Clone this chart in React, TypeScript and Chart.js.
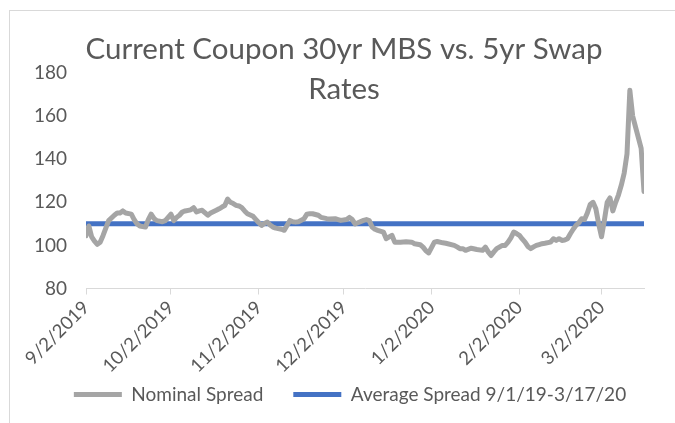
import { useEffect, useRef } from "react";
import { Chart, registerables } from "chart.js";

Chart.register(...registerables);

const TITLE_LINES = ["Current Coupon 30yr MBS vs. 5yr Swap", "Rates"];
const SERIES_NAMES = ["Nominal Spread", "Average Spread 9/1/19-3/17/20"];
const AVERAGE_SPREAD = 110;
const Y_MIN = 80;
const Y_MAX = 180;
const Y_STEP = 20;
const TICK_LABELS = ["9/2/2019", "10/2/2019", "11/2/2019", "12/2/2019", "1/2/2020", "2/2/2020", "3/2/2020"];

const DATES = [
  "9/2/2019", "9/3/2019", "9/4/2019", "9/5/2019", "9/6/2019", "9/7/2019", "9/8/2019", "9/9/2019", "9/10/2019",
  "9/12/2019", "9/13/2019", "9/14/2019", "9/15/2019", "9/16/2019", "9/18/2019", "9/19/2019", "9/20/2019",
  "9/21/2019", "9/23/2019", "9/24/2019", "9/25/2019", "9/26/2019", "9/27/2019", "9/29/2019", "9/30/2019",
  "10/1/2019", "10/2/2019", "10/3/2019", "10/4/2019", "10/5/2019", "10/6/2019", "10/7/2019", "10/9/2019",
  "10/10/2019", "10/11/2019", "10/12/2019", "10/13/2019", "10/15/2019", "10/16/2019", "10/18/2019",
  "10/19/2019", "10/20/2019", "10/21/2019", "10/22/2019", "10/23/2019", "10/24/2019", "10/25/2019",
  "10/26/2019", "10/27/2019", "10/28/2019", "10/29/2019", "10/31/2019",
  "11/1/2019", "11/2/2019", "11/3/2019", "11/4/2019", "11/5/2019", "11/6/2019", "11/7/2019", "11/8/2019",
  "11/10/2019", "11/11/2019", "11/13/2019", "11/14/2019", "11/15/2019", "11/16/2019", "11/18/2019",
  "11/19/2019", "11/20/2019", "11/21/2019", "11/23/2019", "11/24/2019", "11/26/2019", "11/27/2019",
  "11/29/2019", "11/30/2019",
  "12/1/2019", "12/3/2019", "12/4/2019", "12/5/2019", "12/6/2019", "12/7/2019", "12/9/2019", "12/10/2019",
  "12/11/2019", "12/12/2019", "12/13/2019", "12/14/2019", "12/16/2019", "12/17/2019", "12/19/2019",
  "12/20/2019", "12/22/2019", "12/24/2019", "12/26/2019", "12/27/2019", "12/29/2019", "12/30/2019",
  "12/31/2019",
  "1/1/2020", "1/3/2020", "1/4/2020", "1/6/2020", "1/7/2020", "1/10/2020", "1/11/2020", "1/12/2020",
  "1/13/2020", "1/14/2020", "1/16/2020", "1/18/2020", "1/20/2020", "1/21/2020", "1/22/2020", "1/23/2020",
  "1/24/2020", "1/25/2020", "1/27/2020", "1/28/2020", "1/29/2020", "1/30/2020", "1/31/2020",
  "2/1/2020", "2/2/2020", "2/3/2020", "2/4/2020", "2/5/2020", "2/6/2020", "2/7/2020", "2/8/2020",
  "2/9/2020", "2/10/2020", "2/11/2020", "2/13/2020", "2/14/2020", "2/15/2020", "2/16/2020", "2/17/2020",
  "2/18/2020", "2/19/2020", "2/20/2020", "2/21/2020", "2/22/2020", "2/23/2020", "2/24/2020", "2/25/2020",
  "2/26/2020", "2/27/2020", "2/28/2020", "2/29/2020",
  "3/1/2020", "3/2/2020", "3/3/2020", "3/4/2020", "3/5/2020", "3/6/2020", "3/7/2020", "3/8/2020",
  "3/9/2020", "3/10/2020", "3/11/2020", "3/12/2020", "3/13/2020", "3/14/2020", "3/15/2020", "3/16/2020",
  "3/17/2020",
];

const NOMINAL_SPREAD = [
  104.5, 109, 104, 102, 100.5, 101.5, 104.5, 108, 111.5,
  114, 115, 115, 116, 115, 114.5, 112, 110,
  109, 108.5, 112, 114.5, 112.5, 111.5, 111, 111.5,
  113, 114.5, 111.5, 113, 114, 115.5, 116, 116.5,
  117.5, 115.5, 116, 116.3, 114, 115, 116.3,
  117, 117.8, 118.5, 121.5, 120, 119.4, 118.6,
  118.3, 117.5, 116, 114.7, 113.5,
  112, 110.5, 109.3, 110.2, 110.8, 109.5, 108.5, 108,
  107.5, 107, 111.6, 111, 110.8, 111, 112.4,
  114.5, 114.7, 114.7, 114, 113, 112.4, 112.3,
  112.4, 112,
  111.6, 112, 113, 112, 110, 110.5, 111.6, 112,
  111.5, 108.5, 107.5, 107, 106.2, 103.1, 104.7,
  101.5, 101.5, 101.7, 101.5, 100.8, 100.3, 99.2,
  97.5,
  96.5, 101.5, 101.8, 101.2, 101, 100, 99.3, 98.5,
  98.5, 97.7, 98.7, 98.1, 97.7, 99.2, 97, 95.3,
  97, 98.5, 100, 100, 101.5, 103.5, 106.2,
  105.5, 104.7, 103, 101.5, 99.5, 98.5, 99.3, 100,
  100.4, 100.8, 101, 101.5, 103.1, 102.3, 103.1, 102.3,
  102.5, 103.1, 105.4, 107.5, 109.3, 110.5, 112.4, 112,
  115, 119, 120, 117,
  110, 104, 111.6, 120, 122, 116, 120, 123.5,
  128, 133.5, 142.5, 172, 160, 155, 150, 145,
  125,
];

const TEXT_COLOR = "#595959";
const FONT_FAMILY = "Lato";

function dayNumber(s: string): number {
  const [m, d, y] = s.split("/").map(Number);
  return Math.round(Date.UTC(y, m - 1, d) / 86400000);
}

const DAY0 = dayNumber(DATES[0]);
const dayOffset = (s: string) => dayNumber(s) - DAY0;

const titlePlugin = {
  id: "excelTitle",
  afterDraw(chart: any) {
    const { ctx, width } = chart;
    ctx.save();
    ctx.font = `29.5px ${FONT_FAMILY}`;
    ctx.fillStyle = TEXT_COLOR;
    ctx.textAlign = "center";
    ctx.textBaseline = "alphabetic";
    TITLE_LINES.forEach((line, i) => ctx.fillText(line, width / 2, 48 + i * 40));
    ctx.restore();
  },
};

// Excel centres the legend a little right of the canvas centre,
// and the rotated date labels run past the x-axis box, so let them show.
const LEGEND_CENTER = 340;
const layoutTweaksPlugin = {
  id: "layoutTweaks",
  afterLayout(chart: any) {
    const lg = chart.legend;
    if (lg) {
      const dx = LEGEND_CENTER - (lg.left + lg.right) / 2;
      lg.left += dx;
      lg.right += dx;
    }
    const xs = chart.scales.x;
    if (xs) xs.bottom = chart.height;
  },
};

export default function App() {
  const canvasRef = useRef<HTMLCanvasElement | null>(null);

  useEffect(() => {
    if (!canvasRef.current) return;
    const nominal = DATES.map((d, i) => ({ x: dayOffset(d), y: NOMINAL_SPREAD[i] }));
    const average = DATES.map((d) => ({ x: dayOffset(d), y: AVERAGE_SPREAD }));
    const chart = new Chart(canvasRef.current, {
      type: "line",
      data: {
        datasets: [
          {
            label: SERIES_NAMES[0],
            data: nominal,
            borderColor: "#a5a5a5",
            backgroundColor: "#a5a5a5",
            borderWidth: 5,
            pointRadius: 0,
            tension: 0,
            borderJoinStyle: "round",
            borderCapStyle: "round",
          },
          {
            label: SERIES_NAMES[1],
            data: average,
            borderColor: "#4472c4",
            backgroundColor: "#4472c4",
            borderWidth: 5,
            pointRadius: 0,
            tension: 0,
          },
        ],
      },
      options: {
        animation: false,
        responsive: true,
        maintainAspectRatio: false,
        layout: { padding: { left: 0, right: 34, top: 62, bottom: 27 } },
        font: { family: FONT_FAMILY },
        plugins: {
          title: { display: false },
          tooltip: { enabled: false },
          legend: {
            position: "bottom",
            labels: {
              usePointStyle: true,
              pointStyle: "line",
              pointStyleWidth: 48,
              color: TEXT_COLOR,
              font: { family: FONT_FAMILY, size: 19 },
              padding: 30,
            },
          },
        },
        scales: {
          x: {
            type: "linear",
            min: 0,
            max: dayOffset(DATES[DATES.length - 1]),
            afterFit: (s: any) => {
              s.height = 66.5;
            },
            afterBuildTicks: (s: any) => {
              s.ticks = TICK_LABELS.map((l) => ({ value: dayOffset(l) }));
            },
            grid: {
              display: true,
              drawOnChartArea: false,
              drawTicks: true,
              tickLength: 6,
              color: "#d9d9d9",
            },
            border: { display: true, color: "#d9d9d9", width: 1 },
            ticks: {
              autoSkip: false,
              minRotation: 45,
              maxRotation: 45,
              color: TEXT_COLOR,
              font: { family: FONT_FAMILY, size: 18.5 },
              padding: 2,
              callback: (v: any) => {
                const l = TICK_LABELS.find((t) => dayOffset(t) === v);
                return l ?? "";
              },
            },
          },
          y: {
            min: Y_MIN,
            max: Y_MAX,
            afterFit: (s: any) => {
              s.width = 76;
            },
            grid: { display: false, drawTicks: false, tickLength: 0 },
            border: { display: false },
            ticks: {
              stepSize: Y_STEP,
              color: TEXT_COLOR,
              font: { family: FONT_FAMILY, size: 19 },
              padding: 19,
            },
          },
        },
      },
      plugins: [titlePlugin, layoutTweaksPlugin],
    } as any);
    return () => chart.destroy();
  }, []);

  return (
    <div
      style={{
        position: "fixed",
        left: 0,
        top: 0,
        width: 675,
        height: 423,
        overflow: "hidden",
        background: "#ffffff",
      }}
    >
      <div
        style={{
          position: "absolute",
          left: 9,
          top: 10,
          width: 668,
          height: 430,
          border: "1px solid #d9d9d9",
        }}
      >
        <canvas ref={canvasRef} />
      </div>
    </div>
  );
}
